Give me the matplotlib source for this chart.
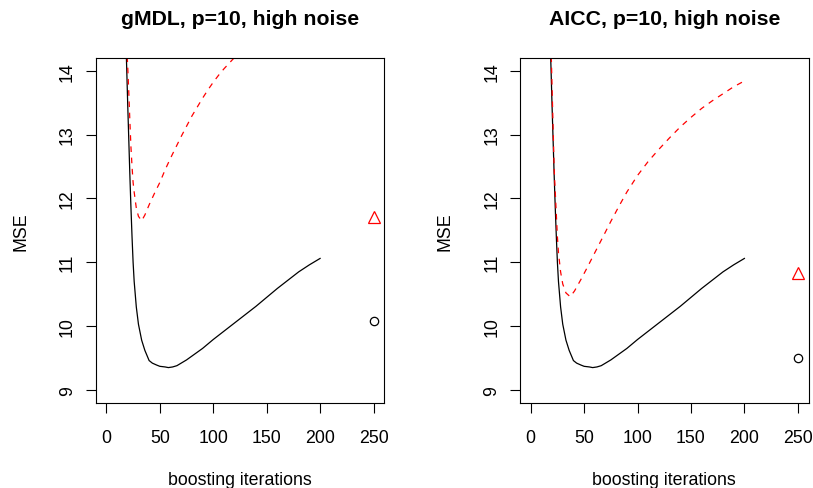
import matplotlib
matplotlib.use("Agg")
import matplotlib.pyplot as plt

plt.rcParams['font.family'] = ['Liberation Sans', 'DejaVu Sans']

# ---- data ----
titles = ["gMDL, p=10, high noise", "AICC, p=10, high noise"]
xlabel = "boosting iterations"
ylabel = "MSE"
xticks = [0, 50, 100, 150, 200, 250]
yticks = [9, 10, 11, 12, 13, 14]

# black solid curve (same in both panels)
black_x = [18, 19, 20, 21, 22, 23, 24, 25, 26, 28, 30, 33, 36, 40, 43, 47, 50, 55, 58,
           62, 66, 70, 75, 80, 85, 90, 95, 100, 110, 120, 130, 140, 150, 160, 170,
           180, 190, 200]
black_y = [14.6, 14.05, 13.45, 12.9, 12.35, 11.85, 11.4, 11.0, 10.7, 10.3, 10.03, 9.78,
           9.62, 9.46, 9.42, 9.39, 9.37, 9.36, 9.35, 9.36, 9.38, 9.42, 9.47, 9.53, 9.59,
           9.65, 9.72, 9.79, 9.92, 10.05, 10.18, 10.31, 10.45, 10.59, 10.72, 10.85,
           10.96, 11.06]

# red dashed curve, gMDL panel
red1_x = [19, 20, 21, 22, 23, 24, 25, 26, 28, 30, 33, 36, 40, 45, 50, 55, 60, 65, 70,
          75, 80, 85, 90, 95, 100, 105, 110, 115, 120, 125]
red1_y = [14.4, 14.05, 13.65, 13.2, 12.8, 12.5, 12.25, 12.1, 11.85, 11.72, 11.65, 11.74,
          11.9, 12.08, 12.25, 12.45, 12.63, 12.8, 12.97, 13.13, 13.29, 13.43, 13.57,
          13.70, 13.82, 13.93, 14.03, 14.12, 14.21, 14.30]

# red dashed curve, AICC panel
red2_x = [19, 20, 21, 22, 23, 24, 25, 26, 28, 30, 33, 37, 41, 47, 53, 60, 68, 75, 83,
          90, 100, 110, 120, 130, 140, 150, 160, 170, 180, 190, 200]
red2_y = [14.4, 13.75, 13.1, 12.45, 12.1, 11.75, 11.4, 11.15, 10.85, 10.66, 10.52,
          10.46, 10.55, 10.73, 10.92, 11.15, 11.41, 11.64, 11.89, 12.10, 12.36, 12.58,
          12.77, 12.95, 13.12, 13.27, 13.41, 13.53, 13.64, 13.75, 13.84]

point_x = 250
circle_y = [10.08, 9.50]
triangle_y = [11.71, 10.83]

W, H = 813, 489
fig = plt.figure(figsize=(W / 100, H / 100), dpi=100)

panels = [(95.7, red1_x, red1_y), (520.0, red2_x, red2_y)]
ax_w = 288.5
ax_top = 59.0
ax_bot = 403.7
fs = 12.8

for i, (left_px, rx, ry) in enumerate(panels):
    ax = fig.add_axes([left_px / W, 1 - ax_bot / H, ax_w / W, (ax_bot - ax_top) / H])
    ax.plot(black_x, black_y, color='black', lw=0.9)
    ax.plot(rx, ry, color='red', lw=0.9, linestyle=(0, (4.5, 4.5)))
    ax.plot([point_x], [circle_y[i]], marker='o', ms=6, mfc='none', mec='black',
            mew=0.9, linestyle='none')
    ax.plot([point_x], [triangle_y[i]], marker='^', ms=8.5, mfc='none', mec='red',
            mew=0.9, linestyle='none')
    ax.set_xlim(-10, 260)
    ax.set_ylim(8.8, 14.2)
    ax.set_xticks(xticks)
    ax.set_yticks(yticks)
    ax.tick_params(direction='out', length=7.2, width=0.8, labelsize=fs,
                   color='black', labelcolor='black')
    ax.tick_params(axis='x', pad=12)
    ax.tick_params(axis='y', pad=7)
    for lab in ax.get_yticklabels():
        lab.set_rotation(90)
        lab.set_va('center')
    for s in ax.spines.values():
        s.set_linewidth(0.8)
        s.set_color('black')
    cx = left_px + ax_w / 2
    fig.text(cx / W, 1 - 25 / H, titles[i], ha='center', va='baseline',
             fontsize=15.3, fontweight='bold')
    fig.text(cx / W, 1 - 485 / H, xlabel, ha='center', va='baseline', fontsize=fs)
    fig.text((left_px - 74.7) / W, 1 - ((ax_top + ax_bot) / 2) / H, ylabel,
             ha='center', va='center', rotation=90, fontsize=fs)

fig.savefig("out.png", dpi=100)
